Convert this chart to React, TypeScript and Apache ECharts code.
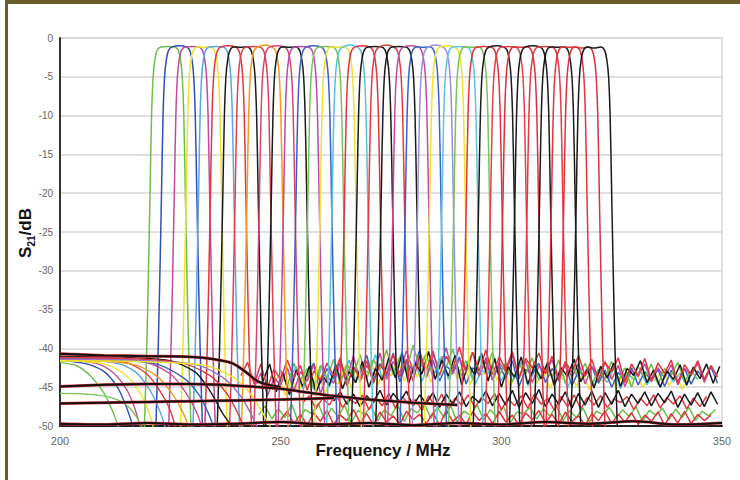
import React, { useEffect, useRef } from "react";
import * as echarts from "echarts";

// ---------- data ----------
const FREQ_MIN = 200;
const FREQ_MAX = 350;
const FREQ_TICK = 50;
const DB_MIN = -50;
const DB_MAX = 0;
const DB_TICK = 5;

// centre frequencies of the filter-bank channels (MHz)
const FILTER_CENTERS_MHZ = [
  224.4, 227.0, 229.9, 232.6, 235.4, 238.1, 240.9, 243.7, 246.4, 249.2, 251.9, 254.7,
  257.5, 260.2, 263.0, 265.7, 268.5, 271.3, 274.0, 276.8, 279.5, 282.3, 285.1, 287.8,
  290.6, 293.3, 296.1, 298.9, 301.6, 304.4, 307.1, 309.9, 312.7, 315.4, 318.2, 321.0,
];
// peak insertion loss of each channel (dB)
const FILTER_PEAKS_DB = [
  -1.1, -1.0, -1.1, -1.2, -1.1, -1.0, -1.2, -1.1, -0.9, -1.0, -1.2, -1.1,
  -1.0, -1.1, -1.2, -0.9, -1.0, -1.1, -0.9, -1.1, -1.0, -1.2, -0.9, -1.0,
  -1.1, -1.2, -1.1, -1.0, -1.1, -1.2, -1.0, -1.1, -1.2, -1.2, -1.3, -1.3,
];
const FILTER_COLORS = [
  "#6cbf4a", "#2f4fb5", "#c24a9e", "#f1e22a", "#5aa6de", "#e2363f", "#1a1a1a", "#e04050",
  "#f29a1f", "#d9456a", "#1a1a1a", "#b84aa8", "#3a5fc8", "#78c25a", "#f0e030", "#56c0e0",
  "#e0343c", "#1a1a1a", "#e23a44", "#1a1a1a", "#c04c9c", "#3b62c9", "#9a8fd8", "#f1e22a",
  "#5cc2e2", "#7ac25c", "#e0343c", "#1a1a1a", "#e44048", "#d8303a", "#1a1a1a", "#e23a44",
  "#1a1a1a", "#e0343c", "#d9323c", "#1a1a1a",
];
// common channel shape: offset from centre (MHz) and level (dB)
const SHAPE_OFFSETS_MHZ = [-5.3, -4.75, -4.35, -4.0, -3.65, -3.3, -2.9, -2.4, -1.6, 0, 1.6, 2.4, 2.9, 3.3, 3.65, 4.0, 4.35, 4.75, 5.3];
const SHAPE_LEVELS_DB = [-50.5, -40, -30, -20, -10, -5, -2.8, -1.6, -1.15, -1.0, -1.15, -1.6, -2.8, -5, -10, -20, -30, -40, -50.5];

// low-side rejection curves on the left
const LOW_SIDE_CURVES = [
  [[200, -41.8], [204, -42.3], [207, -43.6], [210, -45.8], [212, -48.2], [213.5, -50.5]],
  [[200, -41.5], [206, -42.0], [210, -43.0], [213, -45.0], [215, -47.5], [216.8, -50.5]],
  [[200, -41.4], [208, -41.9], [212, -43.1], [215, -45.2], [217, -47.8], [218.3, -50.5]],
  [[200, -41.6], [210, -42.0], [215, -43.5], [218, -45.6], [220, -48.0], [221.3, -50.5]],
  [[200, -41.3], [212, -41.8], [217, -43.0], [220.5, -45.5], [222.7, -48.2], [224, -50.5]],
  [[200, -41.2], [214, -41.7], [219.5, -43.2], [223, -45.8], [225, -48.0], [226.3, -50.5]],
  [[200, -41.5], [216, -42.0], [222, -43.6], [225.5, -45.9], [228, -48.4], [229.3, -50.5]],
  [[200, -41.1], [218, -41.6], [225, -43.3], [228.5, -45.7], [231, -48.3], [232.3, -50.5]],
  [[200, -41.3], [221, -41.9], [228, -43.8], [231.5, -46.0], [233.8, -48.6], [235, -50.5]],
  [[200, -41.0], [224, -41.5], [230.5, -43.0], [234, -45.5], [236, -47.5], [237, -48.5], [239.5, -50.5]],
  [[200, -41.2], [226, -41.7], [234, -43.5], [238, -46.0], [240.5, -48.6], [241.8, -50.5]],
  [[200, -45.8], [206, -45.9], [212, -46.4], [216, -47.8], [219, -50.5]],
  [[200, -41.4], [230, -42.0], [237, -43.8], [241, -46.2], [243.5, -48.7], [245, -50.5]],
  [[200, -41.6], [232, -42.1], [240, -44.0], [244, -46.5], [246.5, -48.9], [248, -50.5]],
];
const LOW_SIDE_COLORS = [
  "#6cbf4a", "#2f4fb5", "#c24a9e", "#f1e22a", "#5aa6de", "#e2363f", "#f29a1f",
  "#d04a9a", "#3a5fc8", "#1a1a1a", "#e0343c", "#7ac25c", "#9a6fc8", "#f0e030",
];

// broadband floor traces (thick black/red lines)
const FLOOR_TOP = [[200, -40.7], [210, -40.9], [220, -41.0], [230, -41.1], [235, -41.4], [239, -41.9], [242, -43.0], [245, -44.3], [250, -45.0]];
const FLOOR_MID = [[200, -44.9], [210, -44.7], [220, -44.6], [230, -44.6], [240, -44.8], [250, -45.2], [255, -45.6], [260, -46.0], [265, -46.3], [270, -46.6], [280, -47.0], [290, -47.3]];
const FLOOR_LOW = [[200, -47.1], [210, -47.0], [220, -46.9], [230, -46.8], [240, -46.7], [250, -46.6], [262, -46.4]];
const FLOOR_BOTTOM = [[200, -49.7], [210, -49.8], [220, -49.6], [230, -49.8], [240, -49.7], [250, -49.5], [260, -49.8], [270, -49.6], [280, -49.9], [290, -49.6], [300, -49.8], [310, -49.5], [320, -49.7], [330, -49.4], [340, -49.8], [350, -49.6]];

// stop-band ripple traces, sampled every NOISE_STEP_MHZ from their start
const NOISE_STEP_MHZ = 1.5;
const NOISE_RED_A = [-43.5,-41.8,-44.6,-42.0,-45.1,-42.7,-44.0,-41.5,-43.8,-42.2,-45.4,-42.9,-44.1,-41.9,-43.6,-41.2,-44.8,-42.4,-43.9,-41.6,-44.5,-42.0,-43.2,-40.8,-43.7,-41.4,-44.2,-40.9,-42.8,-40.3,-43.5,-41.0,-42.6,-39.8,-43.1,-40.5,-42.9,-40.2,-43.4,-41.1,-42.7,-40.4,-43.8,-41.3,-42.5,-40.6,-43.3,-41.0,-44.0,-41.7,-43.1,-40.9,-43.6,-41.4,-44.2,-41.8,-43.0,-41.2,-44.4,-42.0,-43.5,-41.3,-44.1,-41.9,-43.2,-41.5,-44.6,-42.1,-43.4,-41.6,-44.0,-42.2,-43.7];
const NOISE_BLACK_A = [-44.2,-42.0,-45.6,-43.1,-46.0,-42.8,-44.9,-42.3,-45.7,-43.5,-44.8,-42.1,-45.2,-43.0,-44.4,-41.7,-45.0,-42.6,-44.1,-41.2,-43.8,-40.7,-44.5,-41.9,-43.3,-40.4,-44.0,-41.5,-43.6,-40.9,-44.7,-42.0,-43.4,-40.6,-44.2,-41.3,-45.0,-42.4,-43.7,-41.1,-44.6,-42.2,-43.9,-41.8,-44.8,-42.5,-43.6,-41.4,-44.3,-42.7,-45.1,-42.3,-43.8,-41.9,-44.9,-42.6,-43.5,-41.6,-44.4,-42.8,-45.0,-42.9,-44.0,-42.1,-44.7,-42.4,-43.9,-42.0,-44.5,-42.3];
const NOISE_GREEN = [-42.8,-44.9,-41.9,-44.1,-42.6,-45.3,-42.2,-43.8,-41.4,-44.6,-42.0,-43.5,-40.8,-43.9,-41.5,-42.7,-40.2,-43.4,-41.1,-42.9,-39.6,-42.5,-40.7,-43.8,-41.3,-42.4,-40.1,-43.1,-41.6,-44.0,-41.0,-42.8,-40.5,-43.5,-41.8,-44.3,-42.0,-43.3,-41.2,-44.1,-42.4,-43.7,-41.5,-44.5,-42.1,-43.6,-41.9,-44.8,-42.7,-43.9,-41.7,-44.2,-42.5,-45.0,-42.3,-43.8,-42.0,-44.6,-42.6,-43.4,-41.8,-44.3,-42.9,-44.0];
const NOISE_MAGENTA = [-45.0,-43.2,-46.1,-43.8,-44.7,-42.5,-45.5,-43.0,-44.2,-42.1,-45.8,-43.6,-44.5,-41.9,-43.7,-41.0,-44.3,-42.2,-43.5,-40.6,-44.0,-41.7,-43.2,-40.3,-42.9,-41.0,-43.8,-40.8,-42.6,-39.9,-43.3,-41.4,-42.8,-40.5,-43.6,-41.2,-44.1,-41.8,-43.0,-40.9,-43.9,-41.6,-44.4,-42.3,-43.1,-41.5,-44.2,-42.0,-43.7,-41.9,-44.6,-42.4,-43.3,-41.7,-44.0,-42.2,-44.9,-42.8,-43.6,-42.0,-44.3,-42.5,-43.8,-42.1,-44.7,-42.6,-43.5,-41.9,-44.4,-42.3];
const NOISE_YELLOW = [-45.3,-43.4,-46.0,-44.1,-45.6,-43.0,-44.8,-42.7,-45.9,-43.9,-44.6,-42.4,-45.1,-43.2,-44.0,-41.6,-44.7,-42.8,-43.5,-41.3,-44.2,-42.0,-43.7,-40.9,-44.4,-42.5,-43.0,-41.2,-43.9,-42.1,-44.6,-42.7,-43.4,-41.5,-44.1,-42.3,-45.0,-42.9,-43.6,-41.8,-44.5,-43.0,-45.2,-43.3,-44.0,-42.6,-44.9,-43.1,-45.4,-43.5,-44.3,-42.8,-45.1,-43.4,-44.6,-42.9,-45.0,-43.6,-44.2,-42.7,-44.8,-43.2,-45.3,-43.7];
const NOISE_CYAN = [-44.0,-42.3,-45.2,-43.5,-44.6,-42.0,-45.0,-42.9,-43.8,-41.5,-44.4,-42.6,-43.2,-40.8,-43.9,-41.7,-42.8,-40.4,-43.6,-41.9,-44.3,-42.1,-43.1,-41.0,-44.0,-42.4,-43.5,-41.6,-44.7,-42.8,-43.3,-41.4,-44.2,-42.5,-43.9,-41.8,-44.8,-42.9,-43.6,-42.2,-44.5,-42.7,-45.1,-43.0,-44.1,-42.4,-44.9,-43.3,-44.4,-42.6,-45.2,-43.1,-44.0,-42.8,-44.7,-43.4,-45.0,-42.9,-44.3,-43.2,-44.8,-42.5];
const NOISE_BLUE = [-43.6,-41.9,-44.5,-42.6,-43.9,-41.3,-44.8,-42.4,-43.2,-40.9,-44.1,-42.0,-43.5,-40.6,-44.3,-41.8,-42.9,-40.2,-43.7,-41.5,-44.2,-42.3,-43.0,-41.1,-44.6,-42.5,-43.4,-41.7,-44.0,-42.2,-43.8,-41.6,-44.9,-42.7,-43.3,-41.9,-44.4,-42.6,-43.7,-42.1,-44.8,-42.9,-43.5,-42.3,-44.5,-42.8,-45.0,-43.1,-44.1,-42.5,-44.7,-43.0,-44.2,-42.7,-44.9,-42.8,-44.3,-42.6,-44.6,-42.9,-44.0,-42.4,-44.5];
const NOISE_BLACK_MID = [-46.8,-45.6,-47.2,-45.9,-47.5,-46.1,-47.0,-45.4,-47.3,-45.8,-46.9,-45.5,-47.4,-46.0,-47.1,-45.7,-47.6,-45.9,-47.2,-45.6,-47.5,-46.2,-47.0,-45.5,-47.4,-45.8,-47.3,-45.4,-47.6,-45.7,-47.1,-45.3,-47.5,-45.9,-47.2,-45.6,-47.7,-45.8,-47.3,-45.5,-47.6,-45.7,-47.2,-45.4,-47.5,-45.9,-47.1,-45.6,-47.4,-45.8,-47.0,-45.5,-47.6,-45.9,-47.3,-45.7,-47.5,-45.6,-47.2];
const NOISE_RED_MID = [-47.0,-46.1,-47.8,-46.4,-47.3,-45.9,-47.6,-46.5,-47.1,-46.0,-47.9,-46.3,-47.4,-45.8,-47.7,-46.2,-47.2,-46.6,-48.0,-46.1,-47.5,-45.9,-47.8,-46.4,-47.3,-46.0,-47.6,-46.3,-47.1,-45.8,-47.9,-46.5,-47.4,-46.1,-47.7,-45.9,-47.2,-46.4,-48.0,-46.2,-47.5,-46.0,-47.8,-46.3,-47.3,-46.1,-47.6,-46.5,-47.0,-46.2,-47.9,-46.4,-47.4,-46.0,-47.7,-46.3,-47.2,-46.1,-47.8,-46.4,-47.5,-46.2];
const NOISE_RED_LOW = [-49.2,-48.1,-49.7,-48.5,-49.9,-48.3,-49.4,-48.0,-49.8,-48.6,-49.3,-47.9,-49.6,-48.4,-49.9,-48.2,-49.5,-48.7,-49.8,-48.1,-49.2,-48.5,-49.7,-48.3,-49.9,-48.0,-49.4,-48.6,-49.8,-48.2,-49.3,-48.4,-49.7,-48.1,-49.5,-48.6,-49.9,-48.3,-49.2,-48.0,-49.6,-48.5,-49.8,-48.2,-49.4,-48.7,-49.9,-48.4,-49.3,-48.1,-49.7,-48.5,-49.5,-48.3,-49.8,-48.6,-49.4,-48.2,-49.9,-48.4,-49.6,-48.1,-49.7,-48.5,-49.3,-48.6];
const NOISE_GREEN_LOW = [-48.6,-47.4,-49.1,-47.8,-48.9,-47.2,-49.5,-47.9,-48.4,-47.1,-49.2,-47.7,-48.8,-47.3,-49.6,-48.0,-48.5,-47.5,-49.3,-47.9,-48.7,-47.2,-49.4,-47.8,-48.3,-47.0,-49.0,-47.6,-48.9,-47.4,-49.5,-48.1,-48.6,-47.3,-49.2,-47.9,-48.8,-47.5,-49.6,-48.2,-48.4,-47.6,-49.1,-47.8,-48.7,-47.4,-49.3,-48.0,-48.9,-47.7,-49.5,-48.1,-48.5,-47.6,-49.0,-47.9,-48.8,-47.5,-49.4,-48.0,-48.6,-47.7,-49.2,-47.8,-48.9,-47.6,-49.3,-48.1,-48.7,-47.9];

const NOISE_TRACES = [NOISE_GREEN_LOW, NOISE_RED_LOW, NOISE_RED_MID, NOISE_BLACK_MID, NOISE_YELLOW, NOISE_CYAN, NOISE_BLUE, NOISE_MAGENTA, NOISE_GREEN, NOISE_BLACK_A, NOISE_RED_A];
const NOISE_STARTS_MHZ = [245, 250, 255, 262, 248, 252, 256, 244, 250, 246, 241];
const NOISE_COLORS = ["#6cbf4a", "#e0343c", "#e23a44", "#1a1a1a", "#f0e030", "#56c0e0", "#3a5fc8", "#c24a9e", "#6cbf4a", "#1a1a1a", "#e2363f"];

// ---------- component ----------
export default function App() {
  const ref = useRef<HTMLDivElement>(null);

  useEffect(() => {
    if (!ref.current) return;
    const chart = echarts.init(ref.current, undefined, { renderer: "svg" });
    const font = "'Liberation Sans', Arial, sans-serif";

    const series: any[] = [];

    NOISE_TRACES.forEach((vals, i) => {
      series.push({
        type: "line",
        data: vals.map((v, k) => [NOISE_STARTS_MHZ[i] + k * NOISE_STEP_MHZ, v]),
        showSymbol: false,
        lineStyle: { color: NOISE_COLORS[i], width: 1.5 },
        silent: true,
      });
    });

    FILTER_CENTERS_MHZ.forEach((c, i) => {
      series.push({
        type: "line",
        data: SHAPE_OFFSETS_MHZ.map((o, k) => [c + o, o === 0 ? FILTER_PEAKS_DB[i] : SHAPE_LEVELS_DB[k]]),
        showSymbol: false,
        smooth: 0.35,
        lineStyle: { color: FILTER_COLORS[i], width: 1.5 },
        silent: true,
      });
    });

    LOW_SIDE_CURVES.forEach((pts, i) => {
      series.push({
        type: "line",
        data: pts,
        showSymbol: false,
        smooth: 0.3,
        lineStyle: { color: LOW_SIDE_COLORS[i], width: 1.4 },
        silent: true,
      });
    });

    [FLOOR_TOP, FLOOR_MID, FLOOR_LOW, FLOOR_BOTTOM].forEach((pts) => {
      series.push({
        type: "line",
        data: pts,
        showSymbol: false,
        smooth: 0.3,
        lineStyle: { color: "#e0343c", width: 3 },
        silent: true,
      });
      series.push({
        type: "line",
        data: pts,
        showSymbol: false,
        smooth: 0.3,
        lineStyle: { color: "#111111", width: 2 },
        silent: true,
      });
    });

    chart.setOption({
      animation: false,
      backgroundColor: "#ffffff",
      grid: {
        left: 60,
        right: 18,
        top: 38,
        bottom: 54,
        show: true,
        borderColor: "#d6d6d6",
        borderWidth: 1.5,
      },
      xAxis: {
        type: "value",
        min: FREQ_MIN,
        max: FREQ_MAX,
        interval: FREQ_TICK,
        axisLine: { show: true, onZero: false, lineStyle: { color: "#222", width: 2 } },
        axisTick: { show: false },
        splitLine: { show: false },
        axisLabel: { color: "#666", fontSize: 11, fontFamily: font, margin: 9 },
      },
      yAxis: {
        type: "value",
        min: DB_MIN,
        max: DB_MAX,
        interval: DB_TICK,
        axisLine: { show: true, onZero: false, lineStyle: { color: "#333", width: 2 } },
        axisTick: { show: false },
        splitLine: { show: true, lineStyle: { color: "#d6d6d6", width: 1.5 } },
        axisLabel: { color: "#666", fontSize: 10, fontFamily: font, margin: 7 },
      },
      series,
      graphic: [
        { type: "rect", shape: { x: 5, y: 0, width: 740, height: 4 }, style: { fill: "#6b5c2c" }, silent: true },
        { type: "rect", shape: { x: 5, y: 0, width: 3, height: 480 }, style: { fill: "#6b5c2c" }, silent: true },
        {
          type: "text",
          x: 383,
          y: 450,
          style: {
            text: "Frequency / MHz",
            font: `bold 17px ${font}`,
            fill: "#111",
            align: "center",
            verticalAlign: "middle",
          },
          silent: true,
        },
        {
          type: "text",
          x: 25,
          y: 233,
          rotation: Math.PI / 2,
          style: {
            text: "{a|S}{b|21}{a|/dB}",
            align: "center",
            verticalAlign: "middle",
            rich: {
              a: { fontSize: 17, fontWeight: "bold", fontFamily: font, fill: "#111", lineHeight: 22, verticalAlign: "middle" },
              b: { fontSize: 10, fontWeight: "bold", fontFamily: font, fill: "#111", lineHeight: 22, verticalAlign: "bottom" },
            },
          },
          silent: true,
        },
      ],
    });

    return () => chart.dispose();
  }, []);

  return (
    <div
      ref={ref}
      style={{ position: "absolute", left: 0, top: 0, width: 740, height: 480, background: "#fff" }}
    />
  );
}
